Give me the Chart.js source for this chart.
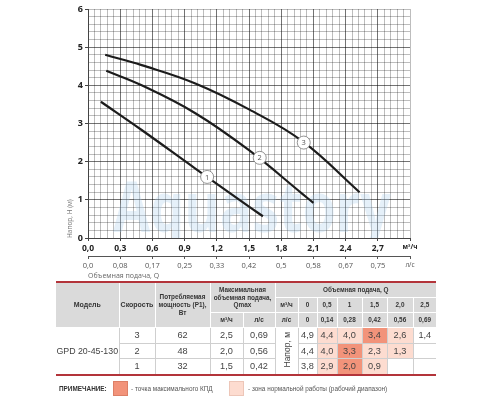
<!DOCTYPE html>
<html lang="ru">
<head>
<meta charset="UTF-8">
<title>GPD 20-45-130</title>
<style>
  body { margin: 0; background: #fff; width: 500px; height: 400px; position: relative; overflow: hidden; font-family: "Liberation Sans", Arial, sans-serif; }
  .chart-box { position: absolute; left: 0; top: 0; width: 500px; height: 282px; }
  table.spec { position: absolute; left: 56px; top: 281px; width: 380px; border-collapse: collapse; table-layout: fixed;
               border-top: 2px solid #b3343a; border-bottom: 2px solid #b3343a; }
  .spec th { background: #dadada; color: #353535; font-weight: bold; font-size: 6.4px; line-height: 1.2; border: 1px solid #fff; padding: 0; height: 14px; }
  .spec td { font-size: 9.2px; color: #444; text-align: center; border: 1px solid #cfcfcf; padding: 0; height: 14.5px; }
  .spec td.model { font-size: 8.8px; border-left: none; white-space: nowrap; }
  .spec tr td:last-child, .spec tr th:last-child { border-right: none; }
  .spec th:first-child { border-left: none; }
  .spec td.hi { background: #f2937a; }
  .spec td.lo { background: #fddcd0; }
  .vert { writing-mode: vertical-rl; transform: rotate(180deg); font-size: 8.5px; color: #444; display: inline-block; }
  .note { position: absolute; top: 381px; left: 0; width: 500px; height: 15px; font-size: 6.4px; color: #555; }
  .note span, .note i { position: absolute; top: 0; line-height: 15px; }
  .note b { position: absolute; top: 0; left: 59px; line-height: 15px; color: #333; }
  .note i { width: 13px; height: 13px; font-style: normal; }
</style>
</head>
<body>

<div class="chart-box"><canvas id="pumpChart"></canvas></div>

<table class="spec">
  <colgroup>
    <col style="width:63px"><col style="width:36px"><col style="width:55px"><col style="width:33px"><col style="width:32px">
    <col style="width:23px"><col style="width:19px"><col style="width:20px"><col style="width:25px"><col style="width:25px"><col style="width:26px"><col style="width:23px">
  </colgroup>
  <tr>
    <th rowspan="3" style="font-size:7px">Модель</th>
    <th rowspan="3" style="font-size:7px">Скорость</th>
    <th rowspan="3">Потребляемая<br>мощность (P1),<br>Вт</th>
    <th colspan="2" rowspan="2">Максимальная<br>объемная подача,<br>Qmax</th>
    <th colspan="7">Объемная подача, Q</th>
  </tr>
  <tr id="rowQ"></tr>
  <tr id="rowLs"></tr>
  <tbody id="rows"></tbody>
</table>

<div class="note">
  <b>ПРИМЕЧАНИЕ:</b>
  <i style="left:113px; background:#f2937a; border:1px solid #dc7f66;"></i>
  <span style="left:131px">- точка максимального КПД</span>
  <i style="left:229px; background:#fddcd0; border:1px solid #edc6b8;"></i>
  <span style="left:248px">- зона нормальной работы (рабочий диапазон)</span>
</div>

<script src="https://cdn.jsdelivr.net/npm/chart.js"></script>
<script>
    // --- данные графика ---
    const qTickLabels = ['0,0', '0,3', '0,6', '0,9', '1,2', '1,5', '1,8', '2,1', '2,4', '2,7'];
    const lsTickLabels = ['0,0', '0,08', '0,17', '0,25', '0,33', '0,42', '0,5', '0,58', '0,67', '0,75'];
    const hTickLabels = ['0', '1', '2', '3', '4', '5', '6'];

    // кривые скоростей 1, 2, 3 (Q м³/ч, H м)
    const speed1Q = [0.12, 0.5, 1.0, 1.5, 1.63];
    const speed1H = [3.57, 2.83, 1.82, 0.82, 0.57];
    const speed2Q = [0.17, 0.5, 1.0, 1.5, 2.0, 2.1];
    const speed2H = [4.38, 4.0, 3.27, 2.3, 1.15, 0.92];
    const speed3Q = [0.16, 0.5, 1.0, 1.5, 2.0, 2.53];
    const speed3H = [4.8, 4.53, 4.05, 3.37, 2.53, 1.2];

    // номера кривых
    const curveNames = ['1', '2', '3'];
    const curveLabelQ = [1.11, 1.6, 2.01];
    const curveLabelH = [1.6, 2.1, 2.5];

    // --- данные таблицы ---
    const tableQ = ['0', '0,5', '1', '1,5', '2,0', '2,5'];
    const tableLs = ['0', '0,14', '0,28', '0,42', '0,56', '0,69'];
    const speeds = ['3', '2', '1'];
    const powerW = ['62', '48', '32'];
    const qmaxM3 = ['2,5', '2,0', '1,5'];
    const qmaxLs = ['0,69', '0,56', '0,42'];
    const headRows = [
        ['4,9', '4,4', '4,0', '3,4', '2,6', '1,4'],
        ['4,4', '4,0', '3,3', '2,3', '1,3', ''],
        ['3,8', '2,9', '2,0', '0,9', '', '']
    ];
    // '' - обычная, 'lo' - рабочий диапазон, 'hi' - макс. КПД
    const headZones = [
        ['', 'lo', 'lo', 'hi', 'lo', ''],
        ['', 'lo', 'hi', 'lo', 'lo', ''],
        ['', 'lo', 'hi', 'lo', '', '']
    ];

    // строим шапку и строки таблицы
    let h = '<th>м³/ч</th>';
    tableQ.forEach(v => h += '<th>' + v + '</th>');
    document.getElementById('rowQ').innerHTML = h;
    h = '<th>м³/ч</th><th>л/с</th><th>л/с</th>';
    tableLs.forEach(v => h += '<th>' + v + '</th>');
    document.getElementById('rowLs').innerHTML = h;

    let body = '';
    speeds.forEach((s, i) => {
        body += '<tr>';
        if (i === 0) body += '<td rowspan="3" class="model">GPD 20-45-130</td>';
        body += '<td>' + s + '</td><td>' + powerW[i] + '</td><td>' + qmaxM3[i] + '</td><td>' + qmaxLs[i] + '</td>';
        if (i === 0) body += '<td rowspan="3"><span class="vert">Напор, м</span></td>';
        headRows[i].forEach((v, j) => {
            body += '<td class="' + headZones[i][j] + '">' + v + '</td>';
        });
        body += '</tr>';
    });
    document.getElementById('rows').innerHTML = body;

    const toPoints = (qs, hs) => qs.map((q, i) => ({ x: q, y: hs[i] }));

    const gridMajor = 'rgba(0,0,0,0.55)';
    const gridMinor = 'rgba(0,0,0,0.26)';
    const fontFamily = '"Open Sans", "Liberation Sans", sans-serif';

    // водяной знак и номера кривых
    const extras = {
        id: 'extras',
        beforeDatasetsDraw(chart) {
            const c = chart.ctx;
            const area = chart.chartArea;
            c.save();
            c.beginPath();
            c.rect(area.left, area.top, area.right - area.left, area.bottom - area.top);
            c.clip();
            c.font = 'bold 70px ' + fontFamily;
            const w = c.measureText('Aquastory').width;
            c.translate(113, 232);
            c.scale(278 / w, 1);
            c.fillStyle = 'rgba(170, 205, 235, 0.3)';
            c.fillText('Aquastory', 0, 0);
            c.restore();
        },
        afterDatasetsDraw(chart) {
            const c = chart.ctx;
            const xs = chart.scales.x;
            const ys = chart.scales.y;
            c.save();
            curveNames.forEach((name, i) => {
                const px = xs.getPixelForValue(curveLabelQ[i]);
                const py = ys.getPixelForValue(curveLabelH[i]);
                c.beginPath();
                c.arc(px, py, 6.5, 0, Math.PI * 2);
                c.fillStyle = '#fff';
                c.fill();
                c.lineWidth = 0.8;
                c.strokeStyle = '#777';
                c.stroke();
                c.fillStyle = '#555';
                c.font = '7.5px ' + fontFamily;
                c.textAlign = 'center';
                c.textBaseline = 'middle';
                c.fillText(name, px, py + 0.5);
            });
            c.restore();
        }
    };

    const lineStyle = {
        showLine: true,
        pointRadius: 0,
        borderColor: '#1c1c1c',
        borderWidth: 2.2,
        tension: 0.4,
        fill: false
    };

    new Chart(document.getElementById('pumpChart'), {
        type: 'scatter',
        data: {
            datasets: [
                Object.assign({ label: '1', data: toPoints(speed1Q, speed1H) }, lineStyle),
                Object.assign({ label: '2', data: toPoints(speed2Q, speed2H) }, lineStyle),
                Object.assign({ label: '3', data: toPoints(speed3Q, speed3H) }, lineStyle)
            ]
        },
        options: {
            responsive: true,
            maintainAspectRatio: false,
            animation: false,
            layout: { padding: { top: 9, right: 90, left: 0, bottom: 0 } },
            plugins: { legend: { display: false }, tooltip: { enabled: false } },
            scales: {
                x: {
                    type: 'linear',
                    position: 'bottom',
                    min: 0,
                    max: 3,
                    afterBuildTicks: s => {
                        const t = [];
                        for (let i = 0; i <= 50; i++) t.push({ value: i * 6 / 100 });
                        s.ticks = t;
                    },
                    afterFit: s => { s.height = 18; },
                    grid: {
                        color: c => (c.index % 5 === 0 && c.index < 50) ? gridMajor : gridMinor,
                        tickColor: c => c.index % 5 === 0 ? '#444' : 'rgba(0,0,0,0)',
                        tickLength: 3,
                        lineWidth: 1
                    },
                    border: { color: '#444', width: 1 },
                    ticks: {
                        autoSkip: false,
                        maxRotation: 0,
                        padding: 2,
                        color: '#222',
                        font: c => ({ family: fontFamily, size: c.index === 50 ? 6.5 : 8.5, weight: 'bold' }),
                        callback: (v, i) => {
                            if (i === 50) return 'м³/ч';
                            return i % 5 === 0 ? qTickLabels[i / 5] : '';
                        }
                    }
                },
                x2: {
                    type: 'linear',
                    position: 'bottom',
                    min: 0,
                    max: 3,
                    afterBuildTicks: s => {
                        const t = [];
                        for (let i = 0; i <= 10; i++) t.push({ value: i * 3 / 10 });
                        s.ticks = t;
                    },
                    afterFit: s => { s.height = 26; },
                    grid: { drawOnChartArea: false, tickLength: 3, tickColor: '#555' },
                    border: { color: '#555', width: 1 },
                    ticks: {
                        autoSkip: false,
                        maxRotation: 0,
                        padding: 2,
                        color: '#555',
                        font: c => ({ family: fontFamily, size: c.index === 10 ? 6.5 : 7.5 }),
                        callback: (v, i) => i === 10 ? 'л/с' : lsTickLabels[i]
                    },
                    title: {
                        display: true,
                        text: 'Объемная подача, Q',
                        align: 'start',
                        color: '#666',
                        font: { family: fontFamily, size: 7 },
                        padding: { top: 0, bottom: 2 }
                    }
                },
                y: {
                    type: 'linear',
                    min: 0,
                    max: 6,
                    afterBuildTicks: s => {
                        const t = [];
                        for (let i = 0; i <= 30; i++) t.push({ value: i * 2 / 10 });
                        s.ticks = t;
                    },
                    afterFit: s => { s.width = 88; },
                    grid: {
                        color: c => (c.index % 5 === 0 && c.index < 30) ? gridMajor : gridMinor,
                        tickColor: c => c.index % 5 === 0 ? '#444' : 'rgba(0,0,0,0)',
                        tickLength: 3
                    },
                    border: { color: '#444', width: 1 },
                    ticks: {
                        autoSkip: false,
                        padding: 2,
                        color: '#222',
                        font: { family: fontFamily, size: 9, weight: 'bold' },
                        callback: (v, i) => i % 5 === 0 ? hTickLabels[i / 5] : ''
                    },
                    title: {
                        display: true,
                        text: 'Напор, H (м)',
                        align: 'start',
                        color: '#777',
                        font: { family: fontFamily, size: 6.5 },
                        padding: { top: 66.5, bottom: 0 }
                    }
                }
            }
        },
        plugins: [extras]
    });
</script>
</body>
</html>
